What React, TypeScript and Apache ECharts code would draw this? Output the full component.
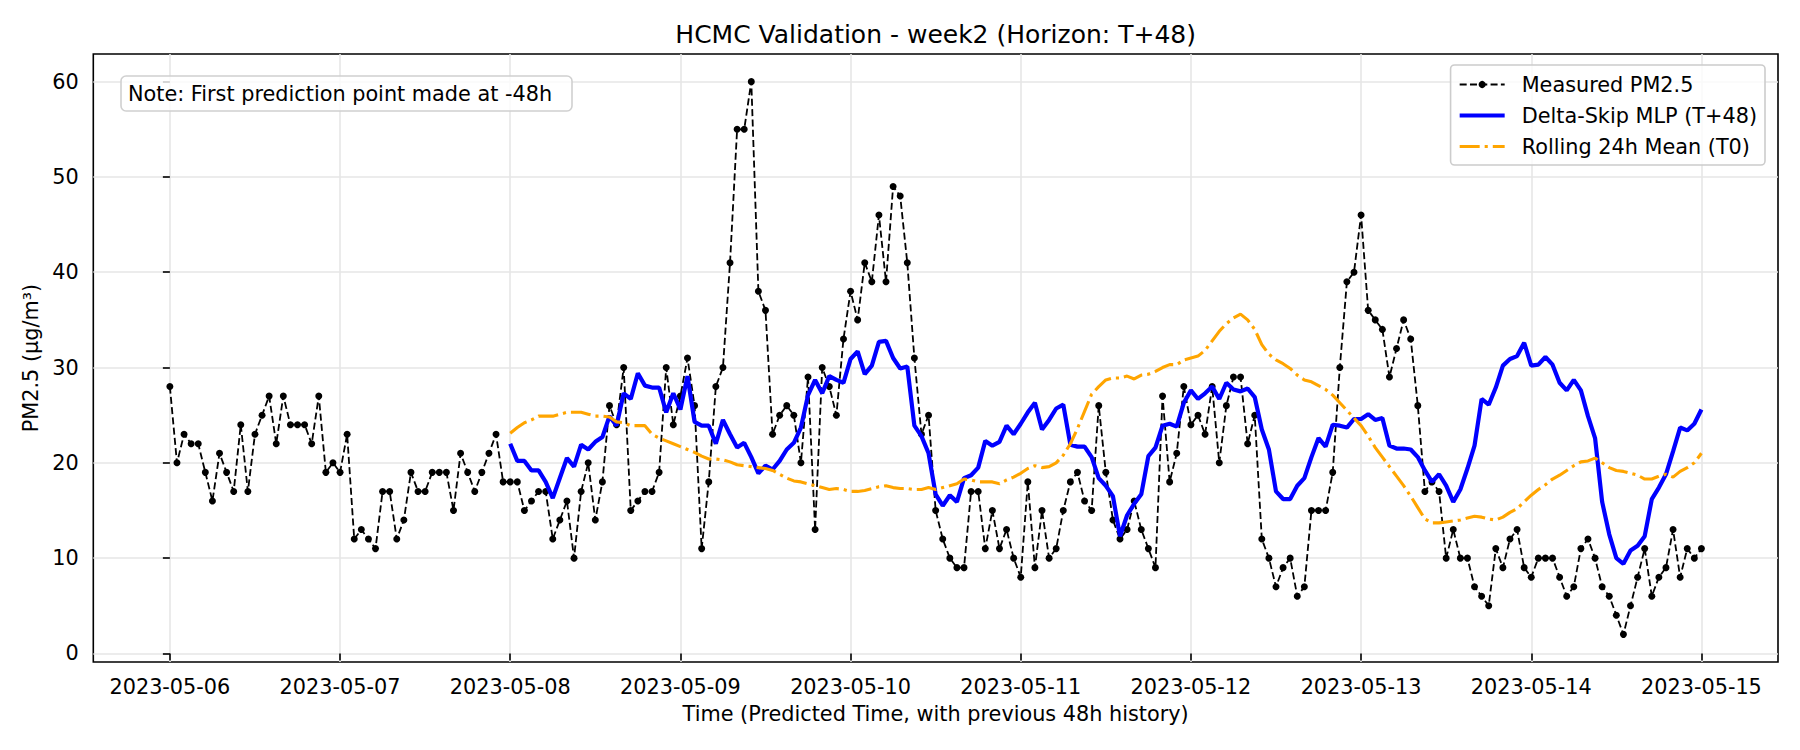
import React, { useEffect, useRef } from "react";
import * as echarts from "echarts";

// Hourly series, hour 0 = 2023-05-06 00:00
const dayLabels = [
  "2023-05-06", "2023-05-07", "2023-05-08", "2023-05-09", "2023-05-10",
  "2023-05-11", "2023-05-12", "2023-05-13", "2023-05-14", "2023-05-15",
];

const yTicks = [0, 10, 20, 30, 40, 50, 60];

const measured = [
  28, 20, 23, 22, 22, 19, 16, 21, 19, 17, 24, 17, 23, 25, 27, 22, 27, 24, 24, 24, 22, 27, 19, 20,
  19, 23, 12, 13, 12, 11, 17, 17, 12, 14, 19, 17, 17, 19, 19, 19, 15, 21, 19, 17, 19, 21, 23, 18,
  18, 18, 15, 16, 17, 17, 12, 14, 16, 10, 17, 20, 14, 18, 26, 24, 30, 15, 16, 17, 17, 19, 30, 24,
  27, 31, 26, 11, 18, 28, 30, 41, 55, 55, 60, 38, 36, 23, 25, 26, 25, 20, 29, 13, 30, 28, 25, 33,
  38, 35, 41, 39, 46, 39, 49, 48, 41, 31, 23, 25, 15, 12, 10, 9, 9, 17, 17, 11, 15, 11, 13, 10,
  8, 18, 9, 15, 10, 11, 15, 18, 19, 16, 15, 26, 19, 14, 12, 13, 16, 13, 11, 9, 27, 18, 21, 28,
  24, 25, 23, 28, 20, 26, 29, 29, 22, 25, 12, 10, 7, 9, 10, 6, 7, 15, 15, 15, 19, 30, 39, 40,
  46, 36, 35, 34, 29, 32, 35, 33, 26, 17, 18, 17, 10, 13, 10, 10, 7, 6, 5, 11, 9, 12, 13, 9,
  8, 10, 10, 10, 8, 6, 7, 11, 12, 10, 7, 6, 4, 2, 5, 8, 11, 6, 8, 9, 13, 8, 11, 10, 11,
];

// Forecasts begin 48 h after the first measurement
const forecastStartHour = 48;

const mlpForecast = [
  22, 20.2, 20.2, 19.2, 19.2, 18, 16.3, 18.4, 20.5, 19.6, 21.9, 21.4, 22.2, 22.7, 24.9, 23.9, 27.3, 26.7, 29.4, 28.1, 27.9, 27.9, 25.3, 27.3,
  25.6, 29.1, 24.3, 23.9, 23.9, 22, 24.5, 23, 21.6, 22.1, 20.6, 18.9, 19.7, 19.3, 20.2, 21.4, 22.1, 23.7, 27.1, 28.7, 27.3, 29.1, 28.7, 28.4,
  30.9, 31.7, 29.3, 30.2, 32.7, 32.8, 31, 29.9, 30.1, 23.9, 22.8, 21, 16.7, 15.5, 16.6, 15.9, 18.4, 18.7, 19.5, 22.3, 21.8, 22.2, 23.9, 23,
  24.1, 25.3, 26.3, 23.5, 24.5, 25.7, 26.1, 21.9, 21.7, 21.7, 20.6, 18.4, 17.6, 16.5, 12.3, 14.5, 15.7, 16.7, 20.7, 21.6, 23.9, 24.1, 23.8, 26.3,
  27.6, 26.7, 27.3, 28, 26.7, 28.4, 27.7, 27.5, 27.8, 26.9, 23.5, 21.4, 17, 16.2, 16.2, 17.6, 18.4, 20.6, 22.6, 21.7, 24, 23.9, 23.7, 24.6,
  24.6, 25.1, 24.5, 24.7, 21.8, 21.5, 21.5, 21.4, 20.6, 19.2, 18, 18.8, 17.6, 15.9, 17.2, 19.4, 21.8, 26.7, 26.1, 27.9, 30.2, 30.9, 31.2, 32.6,
  30.2, 30.3, 31.1, 30.3, 28.4, 27.6, 28.7, 27.6, 24.9, 22.6, 15.9, 12.5, 10, 9.4, 10.8, 11.3, 12.3, 16.2, 17.4, 18.8, 21.2, 23.7, 23.4, 24.1, 25.6,
];

const rollingMean = [
  23.1, 23.7, 24.2, 24.5, 24.9, 24.9, 24.9, 25.1, 25.3, 25.3, 25.3, 25.1, 24.9, 24.9, 24.8, 24.3, 24.2, 23.9, 23.9, 23.9, 23, 22.6, 22.3, 22,
  21.7, 21.4, 21.1, 20.7, 20.4, 20.4, 20.3, 20.1, 19.8, 19.7, 19.6, 19.5, 19.4, 19.2, 18.8, 18.4, 18.1, 18, 17.8, 17.6, 17.4, 17.2, 17.3, 17.2,
  17.0, 17.0, 17.1, 17.3, 17.5, 17.6, 17.4, 17.3, 17.3, 17.2, 17.2, 17.4, 17.2, 17.4, 17.6, 17.8, 18.3, 18.2, 18, 18, 18, 17.8, 18.2, 18.5,
  18.9, 19.4, 19.7, 19.5, 19.6, 20, 20.8, 22, 23.6, 25.4, 27.2, 28, 28.7, 28.9, 28.9, 29.1, 28.8, 29.2, 29.3, 29.6, 30, 30.3, 30.3, 30.8,
  31, 31.2, 31.8, 32.8, 33.8, 34.6, 35.2, 35.6, 35, 34, 32.4, 31.4, 30.8, 30.4, 29.9, 29.2, 28.7, 28.5, 28.1, 27.7, 27.1, 26.3, 25.5, 24.7,
  23.9, 22.8, 21.6, 20.6, 19.6, 18.6, 17.6, 16.5, 15.3, 14.1, 13.7, 13.7, 13.8, 13.9, 14, 14.2, 14.4, 14.3, 14.1, 14, 14.3, 14.8, 15.2, 15.9,
  16.6, 17.2, 17.7, 18.3, 18.7, 19.2, 19.7, 20.1, 20.2, 20.5, 20, 19.5, 19.2, 19.1, 18.9, 18.7, 18.3, 18.3, 18.6, 18.8, 18.5, 19.1, 19.5, 20, 21,
];

const FONT = "DejaVu Sans";

export default function App() {
  const ref = useRef<HTMLDivElement>(null);

  useEffect(() => {
    document.body.style.margin = "0";
    const chart = echarts.init(ref.current as HTMLDivElement, null, { renderer: "svg" });

    const lastHour = measured.length - 1;
    const pad = lastHour * 0.05;
    const hourTicks = dayLabels.map((_, i) => i * 24);
    const yMin = 2 - (60 - 2) * 0.05;
    const yMax = 60 + (60 - 2) * 0.05;

    const gridLeft = 93.3;
    const gridRight = 22;
    const gridTop = 54;
    const gridBottom = 88;
    const plotCenterX = gridLeft + (1800 - gridLeft - gridRight) / 2;

    const tickStyle = { color: "#000", width: 1.6 };
    const labelStyle = { color: "#000", fontSize: 20.8, fontFamily: FONT };

    const measuredLine = { color: "#000", width: 1.8, type: [7, 3.3] };
    const mlpLine = { color: "#0000ff", width: 4.2 };
    const rollingLine = { color: "#ffa500", width: 3.1, type: [20, 5, 3.1, 5] };

    chart.setOption({
      animation: false,
      backgroundColor: "#fff",
      textStyle: { fontFamily: FONT },
      grid: {
        left: gridLeft,
        right: gridRight,
        top: gridTop,
        bottom: gridBottom,
        show: true,
        borderColor: "#000",
        borderWidth: 1.6,
        backgroundColor: "transparent",
      },
      xAxis: {
        type: "value",
        min: -pad,
        max: lastHour + pad,
        axisLine: { show: false },
        axisTick: { show: true, customValues: hourTicks, length: 7, lineStyle: tickStyle },
        axisLabel: {
          customValues: hourTicks,
          margin: 14,
          formatter: (v: number) => dayLabels[Math.round(v / 24)] ?? "",
          ...labelStyle,
        },
        splitLine: { show: true, lineStyle: { color: "#e6e6e6", width: 1.6 } },
        name: "Time (Predicted Time, with previous 48h history)",
        nameLocation: "middle",
        nameGap: 41,
        nameTextStyle: labelStyle,
      },
      yAxis: {
        type: "value",
        min: yMin,
        max: yMax,
        axisLine: { show: false },
        axisTick: { show: true, customValues: yTicks, length: 7, lineStyle: tickStyle },
        axisLabel: { customValues: yTicks, margin: 14.5, ...labelStyle },
        splitLine: { show: true, lineStyle: { color: "#e6e6e6", width: 1.6 } },
        name: "PM2.5 (µg/m³)",
        nameLocation: "middle",
        nameGap: 48,
        nameTextStyle: labelStyle,
      },
      legend: {
        orient: "vertical",
        right: 35,
        top: 65,
        itemWidth: 45,
        itemHeight: 9,
        itemGap: 10,
        padding: [9, 8, 8, 7],
        backgroundColor: "rgba(255,255,255,0.8)",
        borderColor: "#cccccc",
        borderWidth: 1.6,
        borderRadius: 4,
        selectedMode: false,
        textStyle: { ...labelStyle, lineHeight: 21, padding: [0, 0, 0, 12] },
        data: [
          { name: "Measured PM2.5", lineStyle: measuredLine },
          { name: "Delta-Skip MLP (T+48)", itemStyle: { opacity: 0 }, lineStyle: mlpLine },
          { name: "Rolling 24h Mean (T0)", itemStyle: { opacity: 0 }, lineStyle: rollingLine },
        ],
      },
      graphic: [
        {
          type: "text",
          x: plotCenterX,
          y: 34,
          style: {
            text: "HCMC Validation - week2 (Horizon: T+48)",
            fontSize: 25,
            fontFamily: FONT,
            fill: "#000",
            align: "center",
            verticalAlign: "middle",
          },
        },
        {
          type: "rect",
          shape: { x: 121, y: 76, width: 451, height: 35, r: 5 },
          style: { fill: "rgba(255,255,255,0.8)", stroke: "#d0d0d0", lineWidth: 1.6 },
          z: 100,
        },
        {
          type: "text",
          x: 128,
          y: 94,
          z: 101,
          style: {
            text: "Note: First prediction point made at -48h",
            fontSize: 20.8,
            fontFamily: FONT,
            fill: "#000",
            align: "left",
            verticalAlign: "middle",
          },
        },
      ],
      series: [
        {
          name: "Measured PM2.5",
          type: "line",
          data: measured.map((v, i) => [i, v]),
          symbol: "circle",
          symbolSize: 7,
          showSymbol: true,
          itemStyle: { color: "#000" },
          lineStyle: measuredLine,
          emphasis: { disabled: true },
          z: 2,
        },
        {
          name: "Delta-Skip MLP (T+48)",
          type: "line",
          data: mlpForecast.map((v, i) => [i + forecastStartHour, v]),
          symbol: "none",
          itemStyle: { color: "#0000ff" },
          lineStyle: mlpLine,
          emphasis: { disabled: true },
          z: 3,
        },
        {
          name: "Rolling 24h Mean (T0)",
          type: "line",
          data: rollingMean.map((v, i) => [i + forecastStartHour, v]),
          symbol: "none",
          itemStyle: { color: "#ffa500" },
          lineStyle: rollingLine,
          emphasis: { disabled: true },
          z: 4,
        },
      ],
    });

    return () => chart.dispose();
  }, []);

  return <div ref={ref} style={{ width: 1800, height: 750 }} />;
}
